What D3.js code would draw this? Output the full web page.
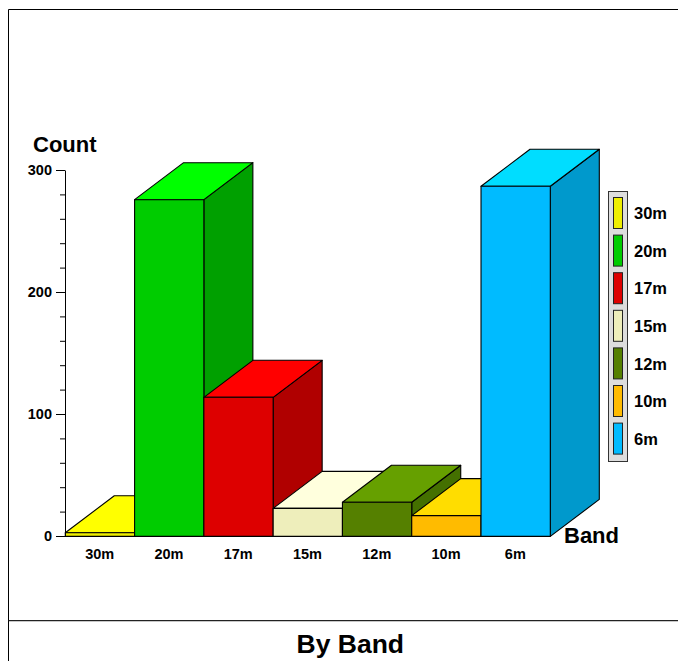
<!DOCTYPE html>
<html>
<head>
<meta charset="utf-8">
<script src="https://d3js.org/d3.v7.min.js"></script>
<style>
body { margin: 0; background: #fff; }
svg { display: block; }
text { font-family: "Liberation Sans", Arial, sans-serif; font-weight: bold; fill: #000; }
</style>
</head>
<body>
<script>
// chart values
const bands = ["30m", "20m", "17m", "15m", "12m", "10m", "6m"];
const counts = [3, 276, 114, 23, 28, 17, 287];
const frontColours = ["#eeee00", "#00cc00", "#dd0000", "#eeeebb", "#558000", "#ffbb00", "#00bbff"];
const topColours = ["#ffff00", "#00ff00", "#ff0000", "#ffffdd", "#66a000", "#ffdd00", "#00ddff"];
const sideColours = ["#b0b000", "#00a000", "#b00000", "#cccc99", "#447000", "#cc9900", "#0099cc"];
const majorTicks = [0, 100, 200, 300];
const minorTicks = [20, 40, 60, 80, 120, 140, 160, 180, 220, 240, 260, 280];

const width = 678, height = 661;

// depth of the fake 3d boxes
const depthX = 49, depthY = 37;

const svg = d3.select("body").append("svg")
  .attr("width", width)
  .attr("height", height);

// outer frame, left side runs to the bottom of the page
svg.append("path")
  .attr("d", "M678,9.5H8.5V661")
  .attr("fill", "none")
  .attr("stroke", "#000");

// rule above the title
svg.append("line")
  .attr("x1", 8.5).attr("x2", 678)
  .attr("y1", 620.7).attr("y2", 620.7)
  .attr("stroke", "#222")
  .attr("stroke-width", 1.2);

const x = d3.scaleBand().domain(bands).range([65, 550]);
const y = d3.scaleLinear().domain([0, 300]).range([536, 170]);

// boxes go left to right, each one covers part of the one before
const boxes = svg.append("g")
  .attr("transform", "translate(0.3,0.4)")
  .attr("stroke", "#000")
  .attr("stroke-width", 1.1)
  .attr("stroke-linejoin", "round")
  .selectAll("g")
  .data(bands)
  .join("g");

boxes.append("polygon")
  .attr("fill", (d, i) => sideColours[i])
  .attr("points", (d, i) => {
    const r = x(d) + x.bandwidth(), t = y(counts[i]), b = y(0);
    return [[r, t], [r + depthX, t - depthY], [r + depthX, b - depthY], [r, b]].join(" ");
  });

boxes.append("polygon")
  .attr("fill", (d, i) => topColours[i])
  .attr("points", (d, i) => {
    const l = x(d), r = l + x.bandwidth(), t = y(counts[i]);
    return [[l, t], [l + depthX, t - depthY], [r + depthX, t - depthY], [r, t]].join(" ");
  });

boxes.append("rect")
  .attr("fill", (d, i) => frontColours[i])
  .attr("x", d => x(d))
  .attr("y", (d, i) => y(counts[i]))
  .attr("width", x.bandwidth())
  .attr("height", (d, i) => y(0) - y(counts[i]));

// y axis, major ticks with labels then the short ones
const yAxis = svg.append("g")
  .attr("transform", "translate(65,0)")
  .call(d3.axisLeft(y).tickValues(majorTicks).tickSize(9).tickSizeOuter(0).tickPadding(4));
yAxis.append("g")
  .call(d3.axisLeft(y).tickValues(minorTicks).tickSize(5).tickSizeOuter(0).tickFormat(""))
  .select(".domain").remove();
yAxis.selectAll("text")
  .attr("font-size", 14.5)
  .attr("font-family", null);

// x axis is just labels, the boxes draw the baseline
const xAxis = svg.append("g")
  .attr("transform", "translate(0,536)")
  .call(d3.axisBottom(x).tickSize(0).tickPadding(13));
xAxis.select(".domain").remove();
xAxis.selectAll("text")
  .attr("font-size", 14.5)
  .attr("font-family", null);

svg.append("text").attr("x", 33).attr("y", 152).attr("font-size", 22).text("Count");
svg.append("text").attr("x", 564).attr("y", 543).attr("font-size", 22).text("Band");
svg.append("text").attr("x", 350.3).attr("y", 653).attr("font-size", 26.5).attr("text-anchor", "middle").text("By Band");

// legend, entries are 37.6 apart
const legendY = d3.scaleBand().domain(bands).range([191, 454.2]);
svg.append("rect")
  .attr("x", 608.5).attr("y", 191.5)
  .attr("width", 19).attr("height", 270)
  .attr("fill", "#dddddd")
  .attr("stroke", "#333");

const legend = svg.append("g")
  .selectAll("g")
  .data(bands)
  .join("g")
  .attr("transform", d => "translate(0," + legendY(d) + ")");

legend.append("rect")
  .attr("x", 613.5).attr("y", 6.5)
  .attr("width", 9).attr("height", 31)
  .attr("fill", (d, i) => frontColours[i])
  .attr("stroke", "#222");

legend.append("text")
  .attr("x", 634).attr("y", 22.4)
  .attr("dy", "0.35em")
  .attr("font-size", 16.5)
  .text(d => d);
</script>
</body>
</html>
